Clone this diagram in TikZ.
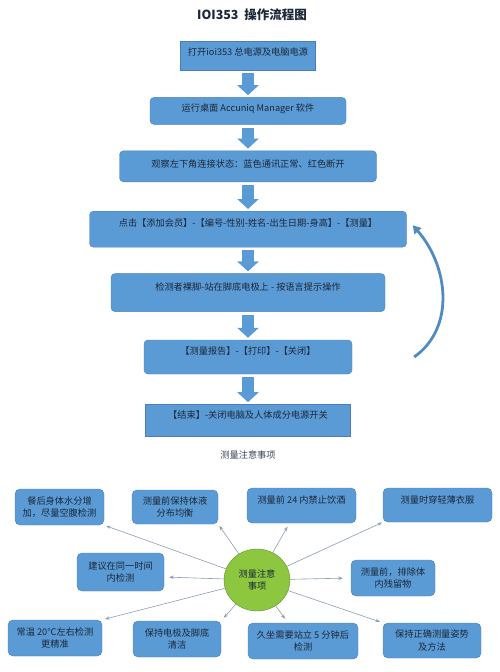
\documentclass[tikz,border=0pt]{standalone}
\usepackage{fontspec}
\setmainfont{Noto Sans CJK SC}
\usepackage{tikz}
\usetikzlibrary{shapes.geometric, arrows.meta, positioning}

\definecolor{boxblue}{HTML}{5B9BD5}
\definecolor{boxedge}{HTML}{4A7EBB}
\definecolor{inktext}{HTML}{1A2738}
\definecolor{hubgreen}{HTML}{8DC63F}
\definecolor{hubedge}{HTML}{5F8F35}
\definecolor{rayline}{HTML}{8C9DB0}

\begin{document}
\begin{tikzpicture}[
  x=1pt, y=-1pt,
  stepbox/.style={rectangle, draw=boxedge, fill=boxblue, rounded corners=4pt, inner sep=0pt, text=inktext, align=center},
  sqbox/.style={stepbox, sharp corners},
  note/.style={stepbox, rounded corners=5pt},
  hub/.style={ellipse, draw=hubedge, fill=hubgreen, inner sep=0pt, minimum width=66pt, minimum height=62pt, text=inktext, align=center},
  bigarr/.style={-{Triangle[width=21pt, length=10pt]}, line width=12pt, draw=boxblue, shorten <=3pt, shorten >=2pt},
  backarr/.style={-{Triangle[width=9pt, length=8pt]}, line width=2.8pt, draw=boxblue!90!black},
  ray/.style={-{Stealth[length=4.5pt, width=3.5pt]}, draw=rayline, line width=0.6pt},
  font=\fontsize{9.2}{12.5}\selectfont
]
\useasboundingbox (0,0) rectangle (500,672);

\node[font=\fontsize{12.5}{14}\selectfont\bfseries, text=inktext] (title) at (252,15) {IOI353\ \ 操作流程图};

% main flow
\node[sqbox, minimum width=135pt, minimum height=29pt, text depth=8.5pt] (power) at (248,55.5) {打开ioi353 总电源及电脑电源};
\node[stepbox, below=27pt of power, minimum width=196pt, minimum height=27pt, text depth=6pt] (software) {运行桌面 Accuniq Manager 软件};
\node[stepbox, below=26pt of software, minimum width=257pt, minimum height=31pt, text depth=6pt] (status) {观察左下角连接状态：蓝色通讯正常、红色断开};
\node[stepbox, below=29pt of status, minimum width=317pt, minimum height=36pt, text depth=13pt] (member) {点击【添加会员】-【编号-性别-姓名-出生日期-身高】-【测量】};
\node[stepbox, below=26pt of member, minimum width=274pt, minimum height=38pt, text depth=13pt] (stand) {检测者裸脚-站在脚底电极上 - 按语言提示操作};
\node[stepbox, below=28pt of stand, minimum width=208pt, minimum height=34pt, text depth=12pt] (report) {【测量报告】-【打印】-【关闭】};
\node[sqbox, below=30pt of report, minimum width=205pt, minimum height=32pt, text depth=12pt] (finish) {【结束】-关闭电脑及人体成分电源开关};

\draw[bigarr] (power) -- (software);
\draw[bigarr] (software) -- (status);
\draw[bigarr] (status) -- (member);
\draw[bigarr] (member) -- (stand);
\draw[bigarr] (stand) -- (report);
\draw[bigarr] (report) -- (finish);

% back to member
\coordinate[right=62pt of report] (backfrom);
\draw[backarr] (backfrom) .. controls +(42,-30) and +(35,40) .. ([xshift=6pt, yshift=4pt]member.east);

\node[below=14pt of finish, inner sep=0pt, text=inktext!85] (notetitle) {测量注意事项};

% notes
\node[hub] (notes) at (257,580) {测量注意\\事项};

\node[note, minimum width=89pt, minimum height=36pt] (meal) at (59.5,507) {餐后身体水分增\\加，尽量空腹检测};
\node[note, minimum width=86pt, minimum height=34pt] (fluid) at (175,507) {测量前保持体液\\分布均衡};
\node[note, minimum width=109pt, minimum height=35pt, text depth=11pt] (alcohol) at (301.5,505.5) {测量前 24 内禁止饮酒};
\node[note, minimum width=109pt, minimum height=34pt, text depth=11pt] (clothes) at (437.5,505) {测量时穿轻薄衣服};
\node[note, minimum width=87pt, minimum height=38pt] (sametime) at (120.5,572) {建议在同一时间\\内检测};
\node[note, minimum width=84pt, minimum height=36pt] (residue) at (393,578) {测量前，排除体\\内残留物};
\node[note, minimum width=94pt, minimum height=36pt] (temp) at (55,638) {常温 20℃左右检测\\更精准};
\node[note, minimum width=88pt, minimum height=36pt] (clean) at (177,639) {保持电极及脚底\\清洁};
\node[note, minimum width=110pt, minimum height=36pt] (sitting) at (303,641) {久坐需要站立 5 分钟后\\检测};
\node[note, minimum width=98pt, minimum height=35pt] (posture) at (432,640.5) {保持正确测量姿势\\及方法};

\draw[ray, shorten >=2pt] (notes) -- (meal.south east);
\draw[ray, shorten >=2pt] (notes) -- (fluid.south east);
\draw[ray, shorten >=4pt] (notes) -- ([xshift=-12pt]alcohol.south);
\draw[ray, shorten >=1pt] (notes) -- (clothes.south west);
\draw[ray, shorten >=5pt] (notes) -- ([yshift=-5pt]sametime.east);
\draw[ray, shorten >=8pt] (notes) -- (residue.west);
\draw[ray, shorten >=3pt] (notes) -- (temp.north east);
\draw[ray, shorten >=4pt] (notes) -- (clean.north east);
\draw[ray, shorten >=5pt] (notes) -- ([xshift=-15pt]sitting.north);
\draw[ray, shorten >=3pt] (notes) -- (posture.north west);
\end{tikzpicture}
\end{document}
